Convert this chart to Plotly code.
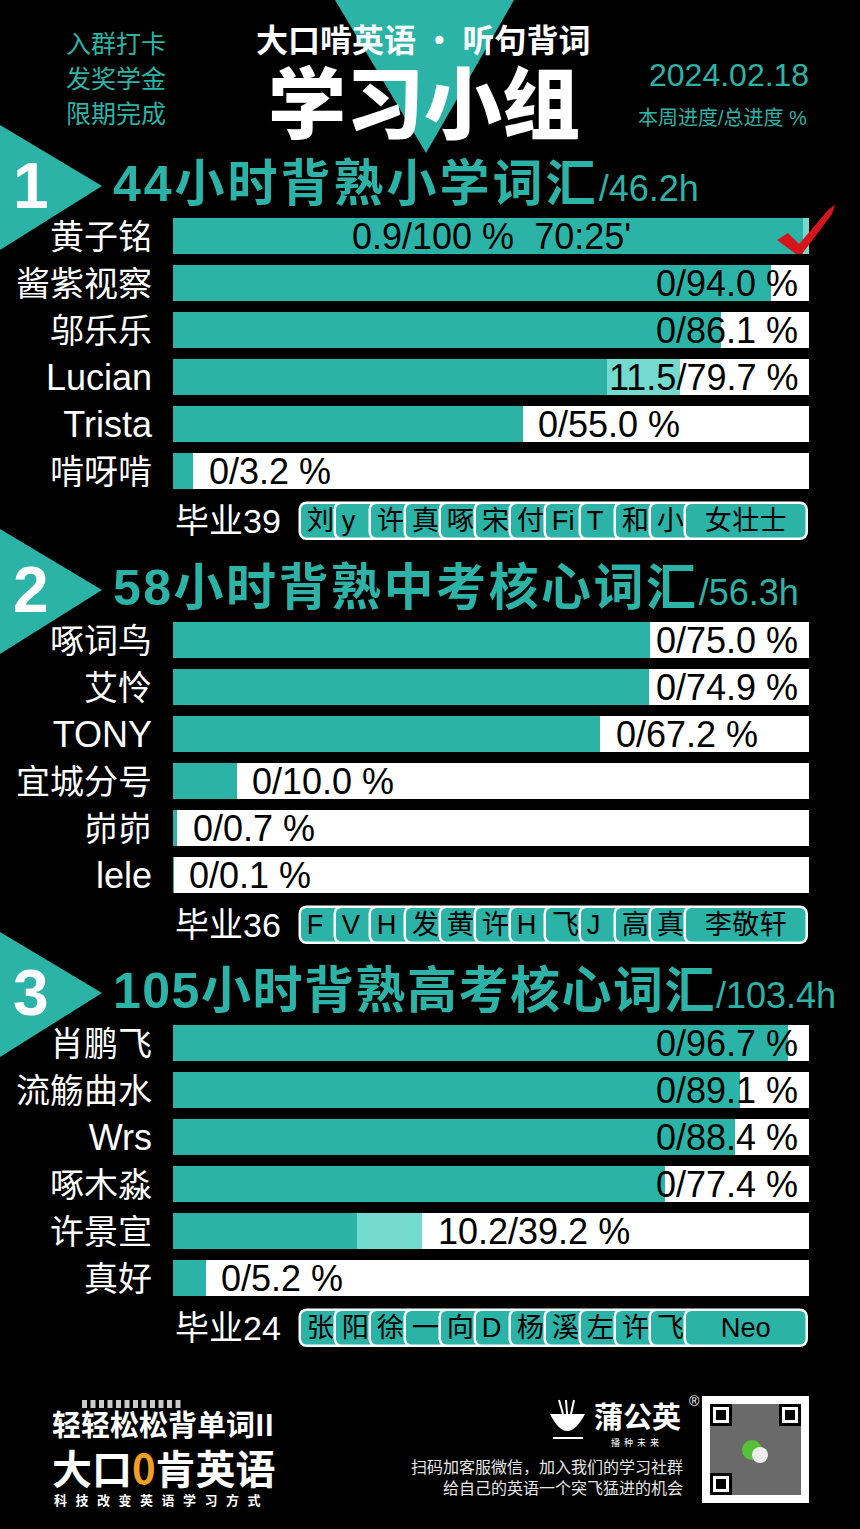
import plotly.graph_objects as go

W, H = 860, 1529
TEAL = "#2BB3A7"
LIGHT = "#74DACF"
RED = "#D6141C"
LATIN = "Liberation Sans, Arial, Noto Sans CJK SC, sans-serif"
CJK = "Noto Sans CJK SC, sans-serif"

# ---------------- data ----------------
header_top = "大口啃英语 · 听句背词"
header_main = "学习小组"
header_left = ["入群打卡", "发奖学金", "限期完成"]
report_date = "2024.02.18"
legend_note = "本周进度/总进度 %"

s1_title = "44小时背熟小学词汇"
s1_hours = "/46.2h"
s1_names = ["黄子铭", "酱紫视察", "邬乐乐", "Lucian", "Trista", "啃呀啃"]
s1_week = [0.9, 0, 0, 11.5, 0, 0]
s1_total = [100, 94.0, 86.1, 79.7, 55.0, 3.2]
s1_time = ["70:25'", "", "", "", "", ""]
s1_graduated = 39
s1_grads = ["刘", "y", "许", "真", "啄", "宋", "付", "Fi", "T", "和", "小", "女壮士"]

s2_title = "58小时背熟中考核心词汇"
s2_hours = "/56.3h"
s2_names = ["啄词鸟", "艾怜", "TONY", "宜城分号", "峁峁", "lele"]
s2_week = [0, 0, 0, 0, 0, 0]
s2_total = [75.0, 74.9, 67.2, 10.0, 0.7, 0.1]
s2_time = ["", "", "", "", "", ""]
s2_graduated = 36
s2_grads = ["F", "V", "H", "发", "黄", "许", "H", "飞", "J", "高", "真", "李敬轩"]

s3_title = "105小时背熟高考核心词汇"
s3_hours = "/103.4h"
s3_names = ["肖鹏飞", "流觞曲水", "Wrs", "啄木淼", "许景宣", "真好"]
s3_week = [0, 0, 0, 0, 10.2, 0]
s3_total = [96.7, 89.1, 88.4, 77.4, 39.2, 5.2]
s3_time = ["", "", "", "", "", ""]
s3_graduated = 24
s3_grads = ["张", "阳", "徐", "一", "向", "D", "杨", "溪", "左", "许", "飞", "Neo"]

footer_brand1 = "轻轻松松背单词II"
footer_slogan = "科技改变英语学习方式"
footer_logo = "蒲公英"
footer_logo_sub = "播种未来"
footer_line1 = "扫码加客服微信，加入我们的学习社群"
footer_line2 = "给自己的英语一个突飞猛进的机会"

sections = [
    dict(title=s1_title, hours=s1_hours, names=s1_names, week=s1_week, total=s1_total,
         time=s1_time, grad=s1_graduated, grads=s1_grads),
    dict(title=s2_title, hours=s2_hours, names=s2_names, week=s2_week, total=s2_total,
         time=s2_time, grad=s2_graduated, grads=s2_grads),
    dict(title=s3_title, hours=s3_hours, names=s3_names, week=s3_week, total=s3_total,
         time=s3_time, grad=s3_graduated, grads=s3_grads),
]

# ---------------- layout constants ----------------
X0, X1 = 173, 809            # pixel extent of the 0..100 axis
UNIT = (X1 - X0) / 100.0
SEC_Y0 = [236, 640, 1043]
ROW_STEP = 47
BAR_H = 36
GRAD_OFF = 285
TITLE_OFF = -50
TITLE_SPACING = [3, 2.5, 1.5]     # letter spacing (px) of each section title
BADGE_START, BADGE_STEP, BADGE_W, BADGE_END = 20.0, 5.5, 7.2, 99.7
PAD = 2.1
RIGHT_LIM = 98.6

CW = {".": .278, "/": .278, " ": .278, "%": .889, ":": .278, "'": .191}


def text_units(s, size=36):
    w = sum(CW.get(c, .556) for c in s) * size
    return w / UNIT


def px(x):
    return x / W


def is_cjk(c):
    return ord(c) > 0x2E80


def name_label(s):
    if any(is_cjk(c) for c in s):
        return f"<span style='font-size:34px'>{s}</span>"
    return s


fig = go.Figure()
ann = []
shapes = []
tickvals, ticktext = [], []


def add_ann(text, x, y, size, color="white", family=LATIN, xanchor="center", xref="paper", **kw):
    ann.append(dict(text=text, x=x, y=y, xref=xref, yref="y", showarrow=False,
                    xanchor=xanchor, yanchor="middle",
                    font=dict(size=size, color=color, family=family), **kw))


for si, sec in enumerate(sections):
    y0 = SEC_Y0[si]
    n = len(sec["names"])
    rows = [y0 + i * ROW_STEP for i in range(n)]
    tickvals += rows
    ticktext += [name_label(s) for s in sec["names"]]
    done = [round(t - w, 2) for t, w in zip(sec["total"], sec["week"])]

    fig.add_bar(x=[100] * n, y=rows, base=0, orientation="h", width=BAR_H,
                marker=dict(color="white", line=dict(width=0)), hoverinfo="skip")
    fig.add_bar(x=done, y=rows, base=0, orientation="h", width=BAR_H,
                marker=dict(color=TEAL, line=dict(width=0)), hoverinfo="skip")
    fig.add_bar(x=sec["week"], y=rows, base=done, orientation="h", width=BAR_H,
                marker=dict(color=LIGHT, line=dict(width=0)), hoverinfo="skip")

    for i in range(n):
        w, t = sec["week"][i], sec["total"][i]
        tot_s = "100" if t >= 100 else f"{t:.1f}"
        lab = f"{w:g}/{tot_s} %"
        if t >= 100:
            lab = lab + "\u00a0\u00a0" + sec["time"][i]
            add_ann(lab, 50, rows[i], 36, color="black", xref="x", xanchor="center")
            pts = [(777, 240), (788, 233), (799, 244), (829, 209), (835, 205), (832, 214), (802, 254), (796, 254)]
            pts = [(x, y - 236 + rows[i]) for x, y in pts]
            path = "M " + " L ".join(f"{px(x):.5f},{y}" for x, y in pts) + " Z"
            shapes.append(dict(type="path", path=path, xref="paper", yref="y",
                               fillcolor=RED, line=dict(width=0), layer="above"))
        elif t + PAD + text_units(lab) > RIGHT_LIM:
            add_ann(lab, RIGHT_LIM, rows[i], 36, color="black", xref="x", xanchor="right")
        else:
            add_ann(lab, t + PAD, rows[i], 36, color="black", xref="x", xanchor="left")

    # graduates row
    gy = y0 + GRAD_OFF
    add_ann(f"毕业{sec['grad']}", 0, gy, 34, xref="x", xanchor="left")
    m = len(sec["grads"])
    for j, g in enumerate(sec["grads"]):
        last = j == m - 1
        base = BADGE_START + j * BADGE_STEP
        width = (BADGE_END - base) if last else BADGE_W
        fig.add_bar(x=[width], y=[gy], base=[base], orientation="h", width=BAR_H,
                    marker=dict(color=TEAL, line=dict(color="white", width=2.5), cornerradius=7),
                    text=[g], textposition="inside",
                    insidetextanchor="middle" if last else "start",
                    textangle=0, constraintext="none",
                    textfont=dict(color="black", size=30, family=LATIN),
                    hoverinfo="skip")

    # section header
    ty = y0 + TITLE_OFF
    shapes.append(dict(type="path",
                       path=f"M 0,{ty-61} L {px(102):.5f},{ty} L 0,{ty+64} Z",
                       xref="paper", yref="y", fillcolor=TEAL, line=dict(width=0), layer="below"))
    add_ann(f"<b>{si+1}</b>", px(31), ty, 64, family="Liberation Sans, Arial, sans-serif")
    title_html = (f"<span style='font-size:50px;letter-spacing:{TITLE_SPACING[si]}px'><b>{sec['title']}</b></span>"
                  f"<span style='font-size:36px'>{sec['hours']}</span>")
    add_ann(title_html, px(111), ty - 2, 36, color=TEAL, xanchor="left")

# ---------------- page header ----------------
shapes.append(dict(type="path", path=f"M {px(335):.5f},0 L {px(514):.5f},0 L {px(426):.5f},153 Z",
                   xref="paper", yref="y", fillcolor=TEAL, line=dict(width=0), layer="below"))
add_ann(f"<b>{header_top}</b>", px(423), 38, 32, family=CJK)
ann.append(dict(text=header_main, x=px(424), y=99, xref="paper", yref="y", showarrow=False,
                xanchor="center", yanchor="middle",
                font=dict(size=78, color="white", family=CJK, weight=900)))
for k, s in enumerate(header_left):
    add_ann(s, px(116), 42 + k * 35, 25, color=TEAL, family=CJK)
add_ann(report_date, px(811), 75, 32, color=TEAL, xanchor="right")
add_ann(legend_note, px(809), 118, 20, color=TEAL, xanchor="right")

# ---------------- footer ----------------
add_ann(f"<b>{footer_brand1}</b>", px(50), 1423, 29, family=CJK, xanchor="left")
add_ann("<b>大口<span style='color:#F0A020'>0</span>肯英语</b>", px(50), 1467, 40, family=CJK, xanchor="left")
add_ann(f"<b><span style='letter-spacing:8.5px'>{footer_slogan}</span></b>", px(52), 1499, 13,
        family=CJK, xanchor="left")
for k in range(12):
    shapes.append(dict(type="rect", x0=px(82 + k * 8.5), x1=px(87 + k * 8.5), y0=1400, y1=1408,
                       xref="paper", yref="y", fillcolor="#cccccc", line=dict(width=0)))

# dandelion logo
shapes.append(dict(type="path",
                   path=f"M {px(550):.5f},1414 Q {px(567):.5f},1448 {px(585):.5f},1414 Z",
                   xref="paper", yref="y", fillcolor="white", line=dict(width=0)))
for xa, xb in [(559, 563), (566, 567), (574, 571)]:
    shapes.append(dict(type="line", x0=px(xa), x1=px(xb), y0=1400, y1=1414,
                       xref="paper", yref="y", line=dict(color="white", width=2)))
shapes.append(dict(type="line", x0=px(553), x1=px(583), y0=1438, y1=1438,
                   xref="paper", yref="y", line=dict(color="white", width=2)))
add_ann(f"<b>{footer_logo}</b>", px(637), 1415, 29, family=CJK)
add_ann(f"<span style='letter-spacing:4px'>{footer_logo_sub}</span>", px(637), 1442, 9, family=CJK)
add_ann("®", px(694), 1401, 14)
add_ann(footer_line1, px(685), 1466, 16, color="#e6e6e6", family=CJK, xanchor="right")
add_ann(footer_line2, px(685), 1487, 16, color="#e6e6e6", family=CJK, xanchor="right")

# QR code block
shapes.append(dict(type="rect", x0=px(702), x1=px(809), y0=1396, y1=1503, xref="paper", yref="y",
                   fillcolor="white", line=dict(width=0)))
shapes.append(dict(type="rect", x0=px(710), x1=px(801), y0=1404, y1=1495, xref="paper", yref="y",
                   fillcolor="#6a6a6a", line=dict(width=0)))
for fx, fy in [(710, 1404), (779, 1404), (710, 1473)]:
    shapes.append(dict(type="rect", x0=px(fx), x1=px(fx + 22), y0=fy, y1=fy + 22, xref="paper", yref="y",
                       fillcolor="black", line=dict(width=0)))
    shapes.append(dict(type="rect", x0=px(fx + 3), x1=px(fx + 19), y0=fy + 3, y1=fy + 19, xref="paper", yref="y",
                       fillcolor="white", line=dict(width=0)))
    shapes.append(dict(type="rect", x0=px(fx + 6), x1=px(fx + 16), y0=fy + 6, y1=fy + 16, xref="paper", yref="y",
                       fillcolor="black", line=dict(width=0)))
shapes.append(dict(type="circle", x0=px(742), x1=px(762), y0=1440, y1=1460, xref="paper", yref="y",
                   fillcolor="#55c23a", line=dict(width=0)))
shapes.append(dict(type="circle", x0=px(752), x1=px(768), y0=1447, y1=1463, xref="paper", yref="y",
                   fillcolor="#eeeeee", line=dict(width=0)))

fig.update_layout(
    width=W, height=H,
    margin=dict(l=0, r=0, t=0, b=0, pad=0),
    paper_bgcolor="black", plot_bgcolor="black",
    barmode="overlay", showlegend=False, bargap=0,
    xaxis=dict(range=[0, 100], domain=[X0 / W, X1 / W], visible=False, fixedrange=True),
    yaxis=dict(range=[H, 0], domain=[0, 1], tickvals=tickvals, ticktext=ticktext,
               showgrid=False, zeroline=False, showline=False, ticks="",
               ticklabelstandoff=20, automargin=False, fixedrange=True,
               tickfont=dict(size=36, color="white", family=LATIN)),
    annotations=ann, shapes=shapes,
    hovermode=False,
)

fig.write_html("out.html", config={"displayModeBar": False},
               post_script="document.body.style.margin='0px';")
